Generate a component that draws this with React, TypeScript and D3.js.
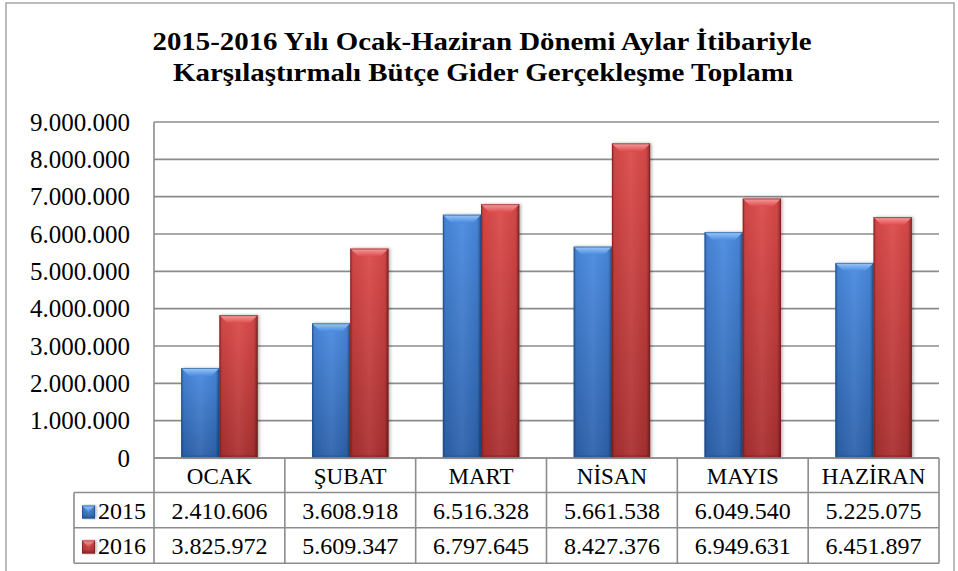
import React from "react";
import * as d3 from "d3";

const categories = ["OCAK", "ŞUBAT", "MART", "NİSAN", "MAYIS", "HAZİRAN"];
const seriesNames = ["2015", "2016"];
const values2015 = [2410606, 3608918, 6516328, 5661538, 6049540, 5225075];
const values2016 = [3825972, 5609347, 6797645, 8427376, 6949631, 6451897];
const yTicks = [0, 1000000, 2000000, 3000000, 4000000, 5000000, 6000000, 7000000, 8000000, 9000000];
const titleLines = [
  "2015-2016 Yılı Ocak-Haziran Dönemi Aylar İtibariyle",
  "Karşılaştırmalı Bütçe Gider Gerçekleşme Toplamı",
];

const W = 958;
const H = 571;
const FONT = '"Liberation Serif", "Times New Roman", Tinos, "DejaVu Serif", serif';
const GRID = "#8c8c8c";

const trLocale = d3.formatLocale({ decimal: ",", thousands: ".", grouping: [3], currency: ["", ""] });
const fmt = trLocale.format(",d");

const palettes = [
  { id: "b", top: "#4a8ae0", bottom: "#2c62ab", light: "#9ccaf8", edge: "#1f4f8f" },
  { id: "r", top: "#dc4a4a", bottom: "#a93030", light: "#f5a0a0", edge: "#7d1c1c" },
];

const ts = { fontFamily: FONT } as React.CSSProperties;

export default function App() {
  const plotL = 154;
  const plotR = 939;
  const plotT = 122;
  const plotB = 458;
  const row1B = 492.5;
  const row2B = 527.7;
  const row3B = 563.3;
  const legendL = 74;

  const x0 = d3.scaleBand<string>().domain(categories).range([plotL, plotR]).padding(0);
  const x1 = d3.scaleBand<string>().domain(seriesNames).range([0, x0.bandwidth()]).paddingInner(0).paddingOuter(0.712);
  const y = d3.scaleLinear().domain([0, 9000000]).range([plotB, plotT]);
  const series = [values2015, values2016];

  const bevel = 8;

  const bar = (xx: number, yy: number, w: number, h: number, p: typeof palettes[0], key: string) => {
    const b = Math.min(bevel, h / 2, w / 2);
    return (
      <g key={key} filter="url(#shadow)">
        <rect x={xx} y={yy} width={w} height={h} fill={`url(#body-${p.id})`} />
        <rect x={xx} y={yy} width={w} height={h} fill="url(#sides)" />
        <polygon
          points={`${xx},${yy} ${xx + w},${yy} ${xx + w - b},${yy + b} ${xx + b},${yy + b}`}
          fill={`url(#top-${p.id})`}
        />
        <polygon
          points={`${xx},${yy + h} ${xx + w},${yy + h} ${xx + w - 2},${yy + h - 3} ${xx + 2},${yy + h - 3}`}
          fill={p.edge}
          opacity={0.35}
        />
        <rect x={xx + 0.5} y={yy + 0.5} width={w - 1} height={h - 1} fill="none" stroke={p.edge} strokeOpacity={0.6} strokeWidth={1} />
      </g>
    );
  };

  const rowBaselines = [518.5, 553.5];
  const titleSpec = [
    { cx: 482, y: 50, len: 659 },
    { cx: 483, y: 80.5, len: 620 },
  ];

  return (
    <svg width={W} height={H} style={{ position: "absolute", left: 0, top: 0, background: "#fff", fontFamily: FONT }}>
      <defs>
        {palettes.map((p) => (
          <React.Fragment key={p.id}>
            <linearGradient id={`body-${p.id}`} x1="0" y1="0" x2="0" y2="1">
              <stop offset="0" stopColor={p.top} />
              <stop offset="1" stopColor={p.bottom} />
            </linearGradient>
            <linearGradient id={`top-${p.id}`} x1="0" y1="0" x2="0" y2="1">
              <stop offset="0" stopColor={p.light} />
              <stop offset="1" stopColor={p.top} />
            </linearGradient>
          </React.Fragment>
        ))}
        <linearGradient id="sides" x1="0" y1="0" x2="1" y2="0">
          <stop offset="0" stopColor="#000" stopOpacity={0.3} />
          <stop offset="0.07" stopColor="#000" stopOpacity={0.05} />
          <stop offset="0.5" stopColor="#fff" stopOpacity={0.06} />
          <stop offset="0.9" stopColor="#000" stopOpacity={0.05} />
          <stop offset="1" stopColor="#000" stopOpacity={0.4} />
        </linearGradient>
        <filter id="shadow" x="-20%" y="-5%" width="140%" height="110%">
          <feDropShadow dx="1.5" dy="0" stdDeviation="1.5" floodColor="#000" floodOpacity="0.3" />
        </filter>
      </defs>

      <rect x={0} y={0} width={W} height={H} fill="#fff" />
      <rect x={6} y={3} width={948} height={H + 10} fill="none" stroke="#a6a6a6" strokeWidth={1.5} />

      {titleLines.map((t, i) => (
        <text
          key={i}
          x={titleSpec[i].cx - titleSpec[i].len / 2}
          y={titleSpec[i].y}
          textLength={titleSpec[i].len}
          lengthAdjust="spacingAndGlyphs"
          fontSize={26}
          fontWeight="bold"
          fill="#000"
          style={ts}
        >
          {t}
        </text>
      ))}

      {yTicks.map((t) => (
        <line key={t} x1={plotL} x2={plotR} y1={y(t)} y2={y(t)} stroke={GRID} strokeWidth={1.6} />
      ))}
      <line x1={plotL} x2={plotL} y1={plotT} y2={row3B} stroke={GRID} strokeWidth={1.6} />

      {yTicks.map((t) => (
        <text key={t} x={130} y={y(t) + 8.5} textAnchor="end" fontSize={25} fill="#000" style={ts}>
          {fmt(t)}
        </text>
      ))}

      {categories.map((c, i) =>
        series.map((vals, s) => {
          const xx = (x0(c) as number) + (x1(seriesNames[s]) as number);
          const yy = y(vals[i]);
          return bar(xx, yy, x1.bandwidth(), plotB - yy, palettes[s], `${c}-${s}`);
        })
      )}

      <line x1={plotL} x2={plotR} y1={plotB} y2={plotB} stroke={GRID} strokeWidth={1.6} />
      <line x1={legendL} x2={plotR} y1={row1B} y2={row1B} stroke={GRID} strokeWidth={1.6} />
      <line x1={legendL} x2={plotR} y1={row2B} y2={row2B} stroke={GRID} strokeWidth={1.6} />
      <line x1={legendL} x2={plotR} y1={row3B} y2={row3B} stroke={GRID} strokeWidth={1.6} />
      <line x1={legendL} x2={legendL} y1={row1B} y2={row3B} stroke={GRID} strokeWidth={1.6} />
      {categories.map((c) => (
        <line
          key={c}
          x1={(x0(c) as number) + x0.bandwidth()}
          x2={(x0(c) as number) + x0.bandwidth()}
          y1={plotB}
          y2={row3B}
          stroke={GRID}
          strokeWidth={1.6}
        />
      ))}
      {categories.map((c) => (
        <text key={c} x={(x0(c) as number) + x0.bandwidth() / 2} y={483.5} textAnchor="middle" fontSize={23} fill="#000" style={ts}>
          {c}
        </text>
      ))}
      {series.map((vals, s) => (
        <g key={s}>
          <g>{bar(82, rowBaselines[s] - 13, 13, 13, palettes[s], `leg-${s}`)}</g>
          <text x={98} y={rowBaselines[s]} fontSize={24} fill="#000" style={ts}>
            {seriesNames[s]}
          </text>
          {categories.map((c, i) => (
            <text key={c} x={(x0(c) as number) + x0.bandwidth() / 2} y={rowBaselines[s]} textAnchor="middle" fontSize={24} fill="#000" style={ts}>
              {fmt(vals[i])}
            </text>
          ))}
        </g>
      ))}
    </svg>
  );
}
